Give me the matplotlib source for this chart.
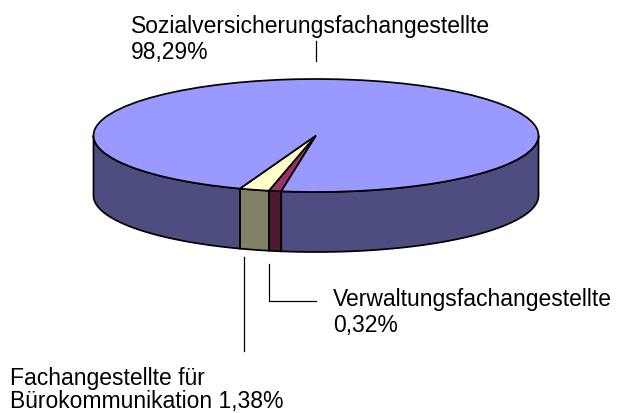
import numpy as np
import matplotlib
matplotlib.use('Agg')
import matplotlib.pyplot as plt

W, H = 617, 414
CX, CY, RX, RY, DEPTH = 316, 136.5, 222.5, 56.5, 60

# shares as drawn in the picture (order: counter-clockwise from the front edge)
names = ['Fachangestellte', 'Verwaltung', 'Sozial']
drawn_shares = [2.17, 0.89, 96.94]
top_colors = ['#FFFFCC', '#993366', '#9999FF']
side_colors = ['#808066', '#4D1933', '#4D4D80']
start_angle = 250
edge_lw = 1.25

plt.rcParams['font.family'] = ['Liberation Sans', 'DejaVu Sans']
fig = plt.figure(figsize=(W / 100, H / 100), dpi=100)

# pie axes: unit circle squashed to an ellipse
ax = fig.add_axes([0, 0, 1, 1])
wedges, _ = ax.pie(drawn_shares, colors=top_colors, startangle=start_angle, radius=1,
                   wedgeprops={'edgecolor': 'black', 'linewidth': edge_lw, 'zorder': 3})
ax.set_aspect('auto')
ax.set_xlim(-CX / RX, (W - CX) / RX)
ax.set_ylim(-(H - CY) / RY, CY / RY)
ax.axis('off')

# side wall, only the front half of the rim
dy = DEPTH / RY
a = start_angle
for share, col in zip(drawn_shares, side_colors):
    b = a + share * 3.6
    lo, hi = max(a, 180), min(b, 360)
    if hi > lo:
        t = np.radians(np.linspace(lo, hi, 200))
        xs = np.cos(t)
        ys = np.sin(t)
        ax.fill(np.r_[xs, xs[::-1]], np.r_[ys, ys[::-1] - dy],
                facecolor=col, edgecolor='black', linewidth=edge_lw, zorder=2)
    a = b
# wall left of the labelled slices
t = np.radians(np.linspace(180, start_angle, 200))
ax.fill(np.r_[np.cos(t), np.cos(t)[::-1]], np.r_[np.sin(t), np.sin(t)[::-1] - dy],
        facecolor=side_colors[2], edgecolor='black', linewidth=edge_lw, zorder=2)

# overlay in pixel coords for the labels and leader lines
ov = fig.add_axes([0, 0, 1, 1])
ov.set_xlim(0, W)
ov.set_ylim(H, 0)
ov.axis('off')
ov.patch.set_alpha(0)

ov.plot([316, 316], [41.5, 62], color='black', lw=0.9)
ov.plot([243.5, 243.5], [258, 352], color='black', lw=0.9)
ov.plot([268.5, 268.5, 316], [265, 302, 302], color='black', lw=0.9)

fs = 16.5
ov.text(131, 32.5, 'Sozialversicherungsfachangestellte', fontsize=fs, va='baseline', ha='left')
ov.text(131, 59, '98,29%', fontsize=fs, va='baseline', ha='left')
ov.text(333, 306, 'Verwaltungsfachangestellte', fontsize=fs, va='baseline', ha='left')
ov.text(333, 332.5, '0,32%', fontsize=fs, va='baseline', ha='left')
ov.text(10, 385, 'Fachangestellte für', fontsize=fs, va='baseline', ha='left')
ov.text(10, 408, 'Bürokommunikation 1,38%', fontsize=fs, va='baseline', ha='left')

fig.savefig('out.png', dpi=100)
